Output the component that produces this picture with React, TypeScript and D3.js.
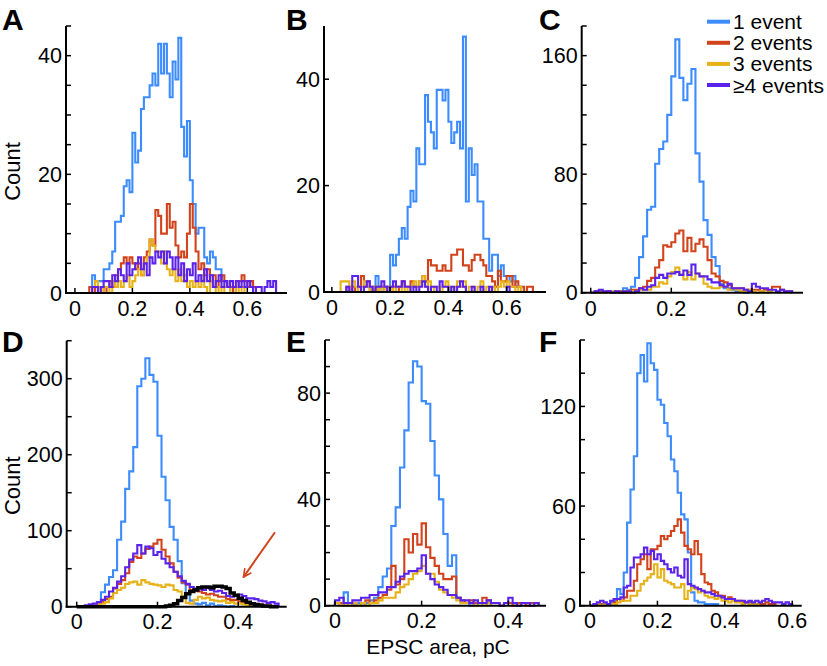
import React from "react";
import * as d3 from "d3";

// bin width of all histograms (pC); arrays start at bin 0.00
const BIN = 0.01;

const seriesNames = ["1 event", "2 events", "3 events", "\u22654 events"];
const seriesColors = ["#3d8cff", "#d2431b", "#e6b217", "#5b22ec"];

// Panel A
const A_one = [0,0,0,0,0,0,3,2,2,2,4,4,5,7,12,12,13,18,19,17,27,22,24,31,33,33,35,37,35,42,37,42,37,33,39,36,43,28,23,29,19,15,10,11,11,6,5,7,6,4,4,2,2,1];
const A_two = [0,0,0,0,0,1,1,0,0,1,0,1,2,1,3,4,5,6,5,6,5,4,5,3,6,7,9,8,14,13,10,10,15,11,12,8,6,7,6,10,15,11,7,4,5,3,4,2,3,1,2,3,2,1,1,0,1,2,3,2,1,2,1];
const A_three = [0,0,0,0,0,0,1,2,1,0,1,1,0,2,1,2,1,2,3,1,2,3,4,3,5,6,9,8,7,7,5,7,4,3,4,2,4,2,3,1,2,1,2,1,3,1,0,2,1,0,1,0,1,1,0,0,1,0,1];
const A_four = [0,0,0,0,0,0,1,1,0,1,2,2,1,3,2,4,3,2,5,3,4,5,6,4,5,3,6,5,7,6,7,5,7,6,4,6,3,5,2,4,3,5,2,3,2,4,2,3,1,2,3,1,2,1,2,1,2,1,2,1,2,1,0,1,1,0,1,2,1,2];

// Panel B
const B_one = [0,0,0,0,0,0,0,0,0,0,0,0,0,0,0,3,1,0,0,1,7,5,7,10,12,10,16,19,17,27,24,24,37,32,30,27,38,38,36,38,32,28,30,32,27,48,17,27,22,24,17,17,10,10,4,7,7,3,5,3,3,2,3,1,1];
const B_two = [0,0,0,0,0,1,0,1,0,1,3,1,2,0,1,0,1,1,0,1,0,1,0,1,2,1,1,2,1,1,2,3,2,6,5,5,4,4,5,4,4,7,7,8,8,5,5,4,6,7,7,6,5,3,3,2,1,4,2,2,3,3,1,2,1,1,0,1,1];
const B_three = [0,0,0,2,2,2,1,2,1,0,1,2,1,0,1,0,1,0,1,0,1,0,1,1,0,1,0,1,2,1,2,3,1,2,0,1,1,0,1,2,1,0,1,2,1,2,0,1,1,0,1,2,0,1,0,1,0,1,2,1,2,1,1,0,1];
const B_four = [0,0,0,0,0,1,0,3,3,1,0,1,2,1,0,1,1,2,1,0,1,2,1,1,2,1,1,0,1,0,1,2,1,0,1,1,0,2,1,1,0,1,0,1,2,1,0,0,1,0,0,1,0,0,1,0,0,0,0,0,1];

// Panel C
const C_one = [0,1,0,0,1,0,1,1,3,2,4,10,24,38,56,58,87,97,102,120,146,171,145,130,141,151,94,75,49,39,24,18,6,3,3,2,1,1,0,1];
const C_two = [0,1,1,0,1,0,0,1,0,1,2,2,3,4,8,10,17,22,32,31,34,40,42,28,37,28,33,36,31,22,13,11,8,7,5,3,3,3,2,2,2,2,1,2,1,4,4,2,1,1];
const C_three = [0,0,0,0,0,1,0,0,1,0,1,1,2,2,2,4,4,7,6,11,14,17,12,9,14,9,13,11,6,4,3,3,4,4,2,3,2,1,1,2,1,0,1,0,1];
const C_four = [0,1,2,1,1,0,1,0,1,1,0,1,3,2,4,5,10,12,10,13,13,14,12,15,12,19,13,11,11,9,7,7,5,4,6,3,3,3,2,1,6,4,3,3,2,2,1,2,1,1];

// Panel D
const D_one = [0,0,0,1,1,2,19,29,39,48,88,112,155,178,210,290,300,327,305,296,225,171,140,105,88,60,31,18,8,4,3,5,2,4,1,2,1,0,1];
const D_two = [0,0,1,1,3,4,6,10,13,24,30,35,44,59,66,64,70,76,79,83,88,75,66,57,46,38,32,29,22,21,20,18,16,17,15,13,13,10,9,9,7,6,5,4,3,3,2,1,1];
const D_three = [0,1,1,2,3,3,4,6,11,18,22,25,30,32,33,29,35,32,30,29,28,26,29,28,22,20,14,5,4,9,13,11,12,9,8,7,8,5,6,4,4,3,2,2,1];
const D_four = [0,1,2,3,4,6,9,13,20,25,33,40,52,62,70,81,70,79,77,68,72,63,57,52,46,40,34,30,26,24,24,22,25,22,20,21,18,14,13,15,16,14,11,11,10,8,7,5,6,4];
const D_fit = [0,0,0,0,0,0,0,0,0,0,0,0,0,0,0,0,0,0,0,0,0,0,1,2,4,8,12,17,20,22,25,26,26,25,27,27,26,24,18,15,11,8,6,4,3,2,1,1,0,0];

// Panel E
const E_one = [1,1,5,1,0,1,0,1,2,3,7,11,14,30,37,52,66,84,92,90,77,76,62,49,40,27,15,19,3,1,1,0,1];
const E_two = [1,1,0,1,0,0,1,2,1,2,3,4,6,15,8,10,25,20,27,23,31,22,18,15,12,10,10,11,3,2,1,2,1,1,3,2,1,1,0,1,1,0,1,1,0,1,1];
const E_three = [1,0,1,0,1,0,1,0,1,1,2,3,3,3,5,7,8,10,12,13,15,12,12,9,6,5,4,3,2,1,1,1,0,1,0,1];
const E_four = [2,3,1,1,2,2,3,3,4,4,5,5,7,7,9,11,12,13,13,14,19,12,10,8,7,6,4,4,3,2,2,1,2,1,1,2,1,1,0,1,3,1,0,1,1,0,1];

// Panel F
const F_one = [0,0,1,0,1,1,2,3,10,7,20,50,70,90,140,151,135,158,146,142,124,121,110,102,88,81,68,55,52,32,8,3,2,2,1,1,1,1];
const F_two = [0,0,1,1,1,1,1,2,4,3,5,9,9,15,25,28,31,22,34,34,36,42,40,42,45,48,52,44,36,34,31,39,31,19,14,13,9,8,6,6,4,5,4,3,3,2,2,2,1,1,1,1,2,1,1];
const F_three = [0,0,1,0,1,1,1,1,2,3,3,3,6,6,9,13,15,17,19,25,17,22,15,14,13,11,11,13,4,9,11,10,8,9,6,5,5,4,5,3,3,2,3,2,2,1,2,1,1,1];
const F_four = [0,1,2,3,2,1,3,4,4,5,11,12,23,29,29,31,35,31,33,28,31,27,25,22,20,23,18,17,28,13,12,11,10,9,8,8,7,6,6,5,4,4,4,3,3,3,2,3,2,3,2,3,4,3,2,2,2,1,2,1];

// tick labels
const A_yTicks = [0, 20, 40];
const B_yTicks = [0, 20, 40];
const C_yTicks = [0, 80, 160];
const D_yTicks = [0, 100, 200, 300];
const E_yTicks = [0, 40, 80];
const F_yTicks = [0, 60, 120];
const xTicksWide = [0, 0.2, 0.4, 0.6];
const xTicksNarrow = [0, 0.2, 0.4];

const FONT = "'Liberation Sans', Arial, Helvetica, sans-serif";

type Panel = {
  letter: string;
  series: number[][];
  fit?: number[];
  xDomain: [number, number];
  xRange: [number, number];
  yMax: number;
  yRange: [number, number];
  yTicks: number[];
  yMinor: number;
  xTicks: number[];
  count?: boolean;
  arrow?: boolean;
};

const panels: Panel[] = [
  { letter: "A", series: [A_one, A_two, A_three, A_four], xDomain: [-0.031, 0.738], xRange: [66, 287], yMax: 45, yRange: [293, 26], yTicks: A_yTicks, yMinor: 5, xTicks: xTicksWide, count: true },
  { letter: "B", series: [B_one, B_two, B_three, B_four], xDomain: [-0.027, 0.735], xRange: [324, 546], yMax: 50, yRange: [292, 26], yTicks: B_yTicks, yMinor: 20, xTicks: xTicksWide },
  { letter: "C", series: [C_one, C_two, C_three, C_four], xDomain: [-0.0224, 0.527], xRange: [581.7, 803], yMax: 180, yRange: [292.7, 26], yTicks: C_yTicks, yMinor: 20, xTicks: xTicksNarrow },
  { letter: "D", series: [D_one, D_two, D_three, D_four], fit: D_fit, xDomain: [-0.0248, 0.52], xRange: [66.7, 286.7], yMax: 350, yRange: [606.7, 340.7], yTicks: D_yTicks, yMinor: 50, xTicks: xTicksNarrow, count: true, arrow: true },
  { letter: "E", series: [E_one, E_two, E_three, E_four], xDomain: [-0.023, 0.487], xRange: [325, 546], yMax: 100, yRange: [605.7, 340], yTicks: E_yTicks, yMinor: 10, xTicks: xTicksNarrow },
  { letter: "F", series: [F_one, F_two, F_three, F_four], xDomain: [-0.0297, 0.628], xRange: [580, 801.7], yMax: 160, yRange: [605.7, 340], yTicks: F_yTicks, yMinor: 20, xTicks: xTicksWide },
];

function stepPath(counts: number[], x: d3.ScaleLinear<number, number>, y: d3.ScaleLinear<number, number>) {
  const pts: [number, number][] = [[0, 0]];
  counts.forEach((c, i) => {
    pts.push([i * BIN, c]);
    pts.push([(i + 1) * BIN, c]);
  });
  pts.push([counts.length * BIN, 0]);
  return d3.line<[number, number]>().x((d) => x(d[0])).y((d) => y(d[1]))(pts) || "";
}

function PanelView({ p }: { p: Panel }) {
  const x = d3.scaleLinear().domain(p.xDomain).range(p.xRange);
  const y = d3.scaleLinear().domain([0, p.yMax]).range(p.yRange);
  const left = p.xRange[0];
  const y0 = y(0);
  const minor = d3.range(0, p.yMax + 0.001, p.yMinor);
  const top = p.yRange[1] < 300;
  const letterY = top ? 30 : 352;
  const letterX = p.xRange[0] < 100 ? 2 : p.xRange[0] < 400 ? 286 : 539;
  return (
    <g>
      {p.series.map((s, i) => (
        <path key={i} d={stepPath(s, x, y)} fill="none" stroke={seriesColors[i]} strokeWidth={2.1} strokeLinejoin="miter" />
      ))}
      {p.fit && <path d={stepPath(p.fit, x, y)} fill="none" stroke="#000" strokeWidth={3.5} />}
      {/* axes */}
      <line x1={left} x2={left} y1={y0 + 1} y2={y(p.yMax)} stroke="#000" strokeWidth={2} />
      <line x1={left - 1} x2={p.xRange[1]} y1={y0} y2={y0} stroke="#000" strokeWidth={2} />
      {minor.map((v) => (
        <line key={"m" + v} x1={left} x2={left + 5} y1={y(v)} y2={y(v)} stroke="#000" strokeWidth={1.5} />
      ))}
      {p.yTicks.map((v) => (
        <text key={"y" + v} x={left - 4} y={y(v)} dy="0.36em" textAnchor="end" fontSize={21.5} fontFamily={FONT}>
          {v}
        </text>
      ))}
      {p.xTicks.map((v) => (
        <g key={"x" + v}>
          <line x1={x(v)} x2={x(v)} y1={y0} y2={y0 - 5} stroke="#000" strokeWidth={1.5} />
          <text x={x(v)} y={y0 + (top ? 23 : 22)} textAnchor="middle" fontSize={21.5} fontFamily={FONT}>
            {v === 0 ? "0" : v.toFixed(1)}
          </text>
        </g>
      ))}
      <text x={letterX} y={letterY} fontSize={30} fontWeight="bold" fontFamily={FONT}>
        {p.letter}
      </text>
      {p.count && (
        <text transform={`translate(20,${(p.yRange[0] + p.yRange[1]) / 2 + 12}) rotate(-90)`} textAnchor="middle" fontSize={22} fontFamily={FONT}>
          Count
        </text>
      )}
      {p.arrow && (
        <line x1={x(0.491)} y1={y(98)} x2={x(0.413)} y2={y(39)} stroke="#d2431b" strokeWidth={2} markerEnd="url(#arrowhead)" />
      )}
    </g>
  );
}

export default function App() {
  return (
    <svg width={827} height={666} style={{ position: "absolute", left: 0, top: 0, background: "#fff" }}>
      <defs>
        <marker id="arrowhead" viewBox="0 0 10 10" refX="9" refY="5" markerWidth="5" markerHeight="5" orient="auto" markerUnits="strokeWidth">
          <path d="M1,1 L9,5 L1,9" fill="none" stroke="#d2431b" strokeWidth={1.6} />
        </marker>
      </defs>
      <rect width={827} height={666} fill="#fff" />
      {panels.map((p) => (
        <PanelView key={p.letter} p={p} />
      ))}
      {/* legend */}
      {seriesNames.map((n, i) => (
        <g key={n}>
          <line x1={707} x2={730} y1={21.7 + i * 21.1} y2={21.7 + i * 21.1} stroke={seriesColors[i]} strokeWidth={4} />
          <text x={733} y={21.7 + i * 21.1} dy="0.36em" fontSize={21} fontFamily={FONT}>
            {n}
          </text>
        </g>
      ))}
      <text x={438} y={654} textAnchor="middle" fontSize={21} fontFamily={FONT}>
        EPSC area, pC
      </text>
    </svg>
  );
}
